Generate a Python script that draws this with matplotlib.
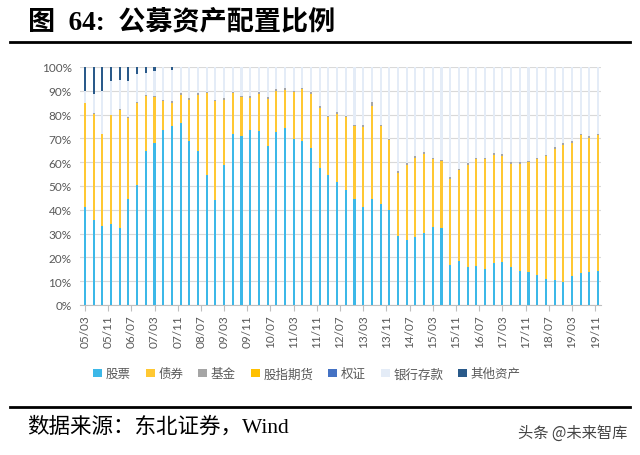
import matplotlib
matplotlib.use("Agg")
import matplotlib.pyplot as plt
import numpy as np

plt.rcParams['font.family'] = ['Lato', 'Noto Sans CJK SC', 'DejaVu Sans']

# quarterly data 2005Q1 - 2019Q4, % of net assets
quarters = [f"{y:02d}/{m:02d}" for y in range(5, 20) for m in (3, 6, 9, 12)]
stock = [41, 35.8, 33.3, 34.2, 32.3, 44.7, 50.2, 64.7, 68, 73.3, 75.2, 76.6, 69, 64.5, 54.6,
         44, 59, 71.8, 70.8, 73.3, 73.2, 66.6, 72.8, 74.2, 69.7, 69, 65.9, 57.5, 54.6, 51.7,
         48.2, 44.4, 41.1, 44.4, 42.5, 39.7, 28.9, 27.5, 28.5, 30.2, 32.6, 32.4, 16.6, 18.6, 15.8,
         16.2, 15.3, 17.5, 18, 16, 14.4, 14, 12.4, 11, 10.5, 9.5, 12, 13.3, 14, 14.3]
bond = [43.7, 44.4, 38.4, 45.5, 49.6, 34, 34.7, 23.2, 19.3, 12.5, 9.8, 11.8, 17.2, 23.9, 34.3,
        41.5, 27.3, 17.1, 16.6, 13.7, 15.6, 20.1, 17.2, 16.3, 19.6, 21.7, 22.9, 25.3, 24.4, 28.7,
        30.8, 30.6, 33.7, 39.3, 32.5, 29.4, 26.6, 31.5, 33.3, 33.4, 28.7, 28, 36.4, 37.9, 43.1,
        45, 45.9, 45.6, 44.7, 43.3, 44.9, 45.9, 48.8, 51.5, 55.2, 57.9, 56.2, 57.9, 56.2, 56.9]
fund = [0.3] * 10 + [0.6] * 23 + [1.5] + [0.6] * 26
futures = [0] * 60
warrant = [0] * 60
other = [10.3, 11.3, 10.3, 6.1, 5.4, 6.1, 2.8, 2.5, 1.8, 0, 1.4] + [0] * 49

# bank deposits fill the rest up to 100%
deposit = [100 - (a + b + c + d + e + f) for a, b, c, d, e, f in
           zip(stock, bond, fund, futures, warrant, other)]

series = [("股票", stock, "#3cb8e8"), ("债券", bond, "#ffc832"), ("基金", fund, "#a5a5a5"),
          ("股指期货", futures, "#ffc000"), ("权证", warrant, "#4472c4"),
          ("银行存款", deposit, "#e4ecf7"), ("其他资产", other, "#2a5a8a")]

x = np.arange(len(quarters)) * 3  # month index

fig = plt.figure(figsize=(6.4, 4.56), dpi=100)
ax = fig.add_axes([0.125, 0.329, 0.814, 0.522])

bottom = np.zeros(len(x))
for name, vals, col in series:
    ax.bar(x, vals, width=0.72, bottom=bottom, color=col, label=name, zorder=3)
    bottom += np.array(vals)

ax.set_xlim(-1.7, 178)
ax.set_ylim(0, 100)
ax.set_yticks(range(0, 101, 10))
ax.set_yticklabels([f"{v}%" for v in range(0, 101, 10)], color="#595959", fontsize=8.5)
ax.yaxis.grid(True, color="#d9d9d9", lw=0.8, zorder=0)
ax.tick_params(axis="y", length=0, pad=6)

lab_pos = np.arange(0, 177, 8)
lab_txt = [f"{5 + (2 + p) // 12:02d}/{(2 + p) % 12 + 1:02d}" for p in lab_pos]
ax.set_xticks(lab_pos)
ax.set_xticklabels(lab_txt, rotation=90, color="#595959", fontsize=8.5)
ax.tick_params(axis="x", length=4, color="#bfbfbf", pad=3)

for s in ["top", "right", "left"]:
    ax.spines[s].set_visible(False)
ax.spines["bottom"].set_color("#bfbfbf")

leg = ax.legend(loc="center", bbox_to_anchor=(0.48, 0.178), bbox_transform=fig.transFigure,
                ncol=7, frameon=False, handlelength=0.7, handleheight=0.7,
                handletextpad=0.3, columnspacing=1.2,
                prop={"family": ["Noto Sans CJK SC"], "size": 9})
for t in leg.get_texts():
    t.set_color("#595959")

fig.text(0.043, 0.95, "图  64:  公募资产配置比例", fontsize=19.5, fontweight="bold",
         family=["Liberation Serif", "Noto Sans CJK SC"], va="center")
fig.add_artist(plt.Line2D([0.016, 0.984], [0.905, 0.905], color="black", lw=2))
fig.add_artist(plt.Line2D([0.016, 0.984], [0.105, 0.105], color="black", lw=2))
fig.text(0.042, 0.062, "数据来源：东北证券，Wind", fontsize=15.5,
         family=["Liberation Serif", "Noto Sans CJK SC"], va="center")
fig.text(0.98, 0.05, "头条 @未来智库", fontsize=11, color="#444444",
         family=["Noto Sans CJK SC"], ha="right", va="center")

plt.savefig("out.png", dpi=100)
